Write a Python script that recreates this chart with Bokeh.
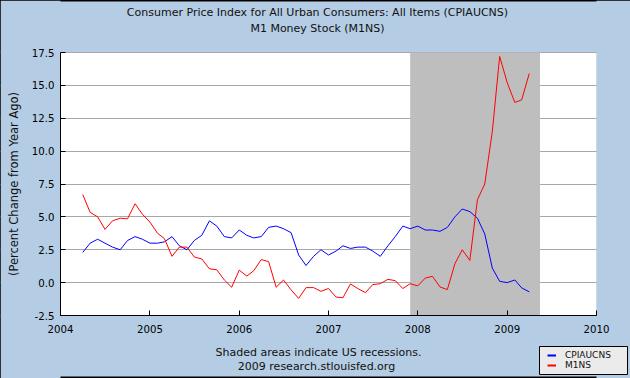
from datetime import datetime
import pandas as pd
from bokeh.plotting import figure
from bokeh.models import (ColumnDataSource, BoxAnnotation, Legend, LegendItem, Label,
                          DatetimeTickFormatter, FixedTicker, NumeralTickFormatter, Range1d)
from bokeh.embed import file_html
from bokeh.resources import INLINE

# ---------------- data ----------------
months = pd.date_range("2004-04-01", "2009-04-01", freq="MS")

cpiaucns = [2.3, 3.0, 3.3, 3.0, 2.7, 2.5, 3.2, 3.5, 3.3,
            3.0, 3.0, 3.1, 3.5, 2.8, 2.5, 3.2, 3.6, 4.7, 4.3, 3.5, 3.4,
            4.0, 3.6, 3.4, 3.5, 4.2, 4.3, 4.1, 3.8, 2.1, 1.3, 2.0, 2.5,
            2.1, 2.4, 2.8, 2.6, 2.7, 2.7, 2.4, 2.0, 2.8, 3.5, 4.3, 4.1,
            4.3, 4.0, 4.0, 3.9, 4.2, 5.0, 5.6, 5.4, 4.9, 3.7, 1.1, 0.1,
            0.0, 0.2, -0.4, -0.7]

m1ns = [6.7, 5.35, 5.0, 4.05, 4.7, 4.9, 4.85, 6.0, 5.2,
        4.6, 3.75, 3.35, 2.0, 2.7, 2.7, 1.95, 1.8, 1.05, 0.98, 0.2, -0.35,
        0.95, 0.5, 0.9, 1.75, 1.6, -0.35, 0.2, -0.55, -1.2, -0.38, -0.38, -0.66,
        -0.45, -1.1, -1.15, -0.1, -0.45, -0.76, -0.15, -0.08, 0.25, 0.15, -0.45, -0.08,
        -0.25, 0.35, 0.48, -0.33, -0.53, 1.44, 2.5, 1.69, 6.3, 7.5, 11.5, 17.2,
        15.2, 13.7, 13.9, 15.9]

recession_start = datetime(2007, 12, 1)
recession_end = datetime(2009, 5, 15)

x_years = [2004, 2005, 2006, 2007, 2008, 2009, 2010]
y_ticks = [-2.5, 0.0, 2.5, 5.0, 7.5, 10.0, 12.5, 15.0, 17.5]

title_lines = ["Consumer Price Index for All Urban Consumers: All Items (CPIAUCNS)",
               "M1 Money Stock (M1NS)"]
foot_lines = ["Shaded areas indicate US recessions.", "2009 research.stlouisfed.org"]
y_label = "(Percent Change from Year Ago)"
series_names = ["CPIAUCNS", "M1NS"]

# ---------------- layout (pixels) ----------------
W, H = 630, 378
PL, PR, PT, PB = 60, 596, 52, 315      # plot-area edges inside the canvas
LEG_BOX = (539, 627, 346, 374)         # legend box: left, right, top, bottom (pixels)
FONT = "DejaVu Sans"
BG = "#B4CDE4"
TXT = "#111111"


def ms(d):
    return d.timestamp() * 1000.0


x0, x1 = ms(datetime(x_years[0], 1, 1)), ms(datetime(x_years[-1], 1, 1))
y0, y1 = y_ticks[0], y_ticks[-1]
kx = (x1 - x0) / (PR - PL)
ky = (y1 - y0) / (PB - PT)
x_range = Range1d(x0 - PL * kx, x1 + (W - PR) * kx)
y_range = Range1d(y0 - (H - PB) * ky, y1 + PT * ky)


def px_x(px):
    return x_range.start + px * kx


def px_y(py):
    return y_range.end - py * ky


src = ColumnDataSource(dict(date=months, cpi=cpiaucns, m1=m1ns))

p = figure(width=W, height=H, x_axis_type="datetime", x_range=x_range, y_range=y_range,
           output_backend="svg", toolbar_location=None, min_border=0)
p.background_fill_color = BG
p.border_fill_color = BG
p.outline_line_color = "black"
p.outline_line_width = 2

p.xgrid.grid_line_color = None
p.ygrid.grid_line_color = "#A8A8A8"
p.ygrid.grid_line_width = 1
p.ygrid.ticker = FixedTicker(ticks=y_ticks)

plot_area = BoxAnnotation(left=x0, right=x1, bottom=y0, top=y1, fill_color="white",
                          fill_alpha=1.0, line_color=None, level="underlay")
recession = BoxAnnotation(left=recession_start, right=recession_end, bottom=y0, top=y1,
                          fill_color="#BEBEBE", fill_alpha=1.0, line_color=None,
                          level="underlay")
mask_left = BoxAnnotation(right=x0, fill_color=BG, fill_alpha=1.0, line_color=None,
                          level="underlay")
mask_right = BoxAnnotation(left=x1, fill_color=BG, fill_alpha=1.0, line_color=None,
                           level="underlay")
leg_l, leg_r, leg_t, leg_b = LEG_BOX
legend_box = BoxAnnotation(left=px_x(leg_l), right=px_x(leg_r),
                           top=px_y(leg_t), bottom=px_y(leg_b),
                           fill_color="#EBEBEB", fill_alpha=1.0,
                           line_color="black", line_alpha=1.0, line_width=1,
                           level="underlay")
p.center = [plot_area] + list(p.center) + [recession, mask_left, mask_right, legend_box]

r_cpi = p.line("date", "cpi", source=src, line_color="blue", line_width=1)
r_m1 = p.line("date", "m1", source=src, line_color="red", line_width=1)

# axes, pinned to the plot-area edges
tick_ms = [ms(datetime(y, 1, 1)) for y in x_years]
xa, ya = p.xaxis[0], p.yaxis[0]
xa.ticker = FixedTicker(ticks=tick_ms)
xa.formatter = DatetimeTickFormatter(years="%Y", months="%Y", days="%Y",
                                     hours="%Y", minutes="%Y", seconds="%Y",
                                     milliseconds="%Y", microseconds="%Y")
xa.fixed_location = y0
xa.bounds = (x0, x1)
ya.ticker = FixedTicker(ticks=y_ticks)
ya.formatter = NumeralTickFormatter(format="0.0")
ya.fixed_location = x0
ya.bounds = (y0, y1)

for ax in (xa, ya):
    ax.axis_line_color = "black"
    ax.axis_line_width = 1
    ax.major_tick_line_color = "black"
    ax.major_tick_in = 5
    ax.major_tick_out = 0
    ax.minor_tick_line_color = None
    ax.major_label_text_font = FONT
    ax.major_label_text_font_size = "10.2px"
    ax.major_label_text_color = "black"

xa.major_label_standoff = 9
ya.major_label_standoff = 6
ya.axis_label = y_label
ya.axis_label_text_font = FONT
ya.axis_label_text_font_size = "11.5px"
ya.axis_label_text_font_style = "normal"
ya.axis_label_text_color = TXT
ya.axis_label_standoff = 8


def add_text(txt, cx, cy, size="11px"):
    # cx, cy: centre of the text in canvas pixels from the top-left corner
    p.add_layout(Label(x=cx, y=H - cy, x_units="screen", y_units="screen", text=txt,
                       text_font=FONT, text_font_size=size, text_color=TXT,
                       text_align="center", text_baseline="middle"))


add_text(title_lines[0], 317, 12)
add_text(title_lines[1], 317, 28)
add_text(foot_lines[0], 318, 352)
add_text(foot_lines[1], 316, 366)

d_cpi = p.line(x=[x0], y=[float("nan")], line_color="blue", line_width=2)
d_m1 = p.line(x=[x0], y=[float("nan")], line_color="red", line_width=2)
legend = Legend(items=[LegendItem(label=series_names[0], renderers=[d_cpi]),
                       LegendItem(label=series_names[1], renderers=[d_m1])],
                location=(547, 8), orientation="vertical")
legend.border_line_color = None
legend.background_fill_color = None
legend.label_text_font = FONT
legend.label_text_font_size = "9px"
legend.label_text_color = TXT
legend.label_height = 10
legend.glyph_height = 10
legend.glyph_width = 9
legend.label_standoff = 9
legend.spacing = 0
legend.padding = 3
legend.margin = 0
p.add_layout(legend)

open("out.html", "w").write(file_html(p, INLINE))
